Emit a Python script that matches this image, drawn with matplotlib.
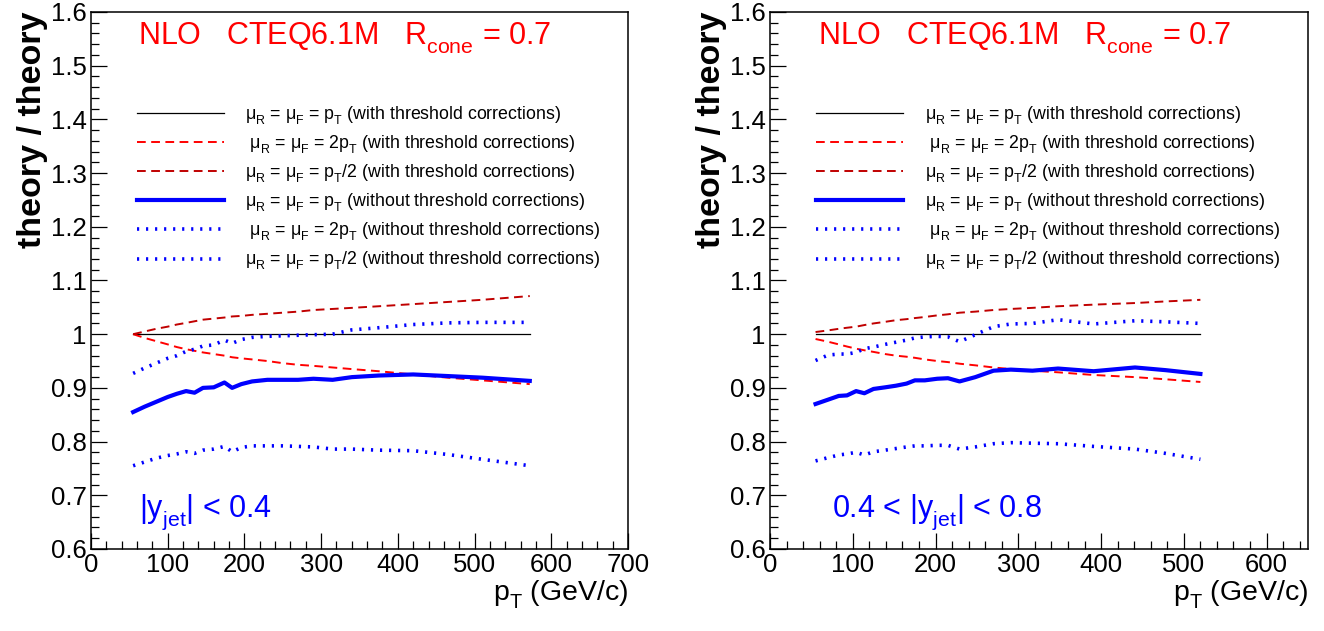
import matplotlib
matplotlib.use("Agg")
import matplotlib.pyplot as plt
import matplotlib._mathtext as mathtext_internals
from matplotlib.ticker import MultipleLocator, FormatStrFormatter

plt.rcParams['font.family'] = 'Liberation Sans'
plt.rcParams['mathtext.fontset'] = 'custom'
plt.rcParams['mathtext.rm'] = 'Liberation Sans'
plt.rcParams['mathtext.it'] = 'Liberation Sans:italic'
plt.rcParams['mathtext.bf'] = 'Liberation Sans:bold'
plt.rcParams['mathtext.default'] = 'regular'
# drop subscripts a bit lower, ROOT-like
mathtext_internals.FontConstantsBase.sub1 = 0.55

# --- |y_jet| < 0.4 ---
pt_y04 = [55, 70, 85, 100, 112, 124, 135, 146, 160, 174, 184, 196,
          210, 230, 250, 270, 290, 315, 340, 375, 420, 465, 510, 572]
y04_pt_th = [1.0, 1.0, 1.0, 1.0, 1.0, 1.0, 1.0, 1.0, 1.0, 1.0, 1.0, 1.0,
             1.0, 1.0, 1.0, 1.0, 1.0, 1.0, 1.0, 1.0, 1.0, 1.0, 1.0, 1.0]
y04_2pt_th = [1.000, 0.993, 0.987, 0.981, 0.976, 0.972, 0.969, 0.966, 0.963, 0.960, 0.957, 0.955,
              0.953, 0.950, 0.946, 0.943, 0.941, 0.938, 0.935, 0.931, 0.925, 0.919, 0.914, 0.907]
y04_half_th = [1.000, 1.005, 1.010, 1.014, 1.018, 1.021, 1.024, 1.027, 1.029, 1.031, 1.033, 1.034,
               1.036, 1.038, 1.040, 1.042, 1.045, 1.047, 1.049, 1.052, 1.056, 1.060, 1.064, 1.071]
y04_pt_noth = [0.855, 0.865, 0.874, 0.883, 0.889, 0.894, 0.891, 0.900, 0.901, 0.910, 0.900, 0.907,
               0.912, 0.915, 0.915, 0.915, 0.917, 0.915, 0.920, 0.923, 0.925, 0.922, 0.919, 0.913]
y04_2pt_noth = [0.927, 0.937, 0.946, 0.955, 0.960, 0.968, 0.972, 0.978, 0.980, 0.989, 0.983, 0.990,
                0.994, 0.996, 0.997, 0.998, 0.999, 1.000, 1.008, 1.012, 1.018, 1.021, 1.022, 1.022]
y04_half_noth = [0.755, 0.762, 0.769, 0.774, 0.777, 0.781, 0.778, 0.784, 0.786, 0.791, 0.781, 0.789,
                 0.792, 0.792, 0.792, 0.791, 0.790, 0.786, 0.786, 0.784, 0.783, 0.776, 0.767, 0.755]

# --- 0.4 < |y_jet| < 0.8 ---
pt_y48 = [55, 70, 83, 93, 104, 114, 125, 139, 152, 165, 175, 187,
          202, 215, 229, 248, 270, 291, 317, 348, 391, 441, 478, 520]
y48_pt_th = [1.0, 1.0, 1.0, 1.0, 1.0, 1.0, 1.0, 1.0, 1.0, 1.0, 1.0, 1.0,
             1.0, 1.0, 1.0, 1.0, 1.0, 1.0, 1.0, 1.0, 1.0, 1.0, 1.0, 1.0]
y48_2pt_th = [0.991, 0.986, 0.981, 0.977, 0.973, 0.970, 0.967, 0.963, 0.960, 0.958, 0.956, 0.953,
              0.950, 0.948, 0.945, 0.942, 0.938, 0.935, 0.932, 0.929, 0.924, 0.920, 0.916, 0.911]
y48_half_th = [1.004, 1.007, 1.010, 1.012, 1.014, 1.017, 1.020, 1.023, 1.026, 1.028, 1.030, 1.032,
               1.035, 1.037, 1.040, 1.042, 1.045, 1.047, 1.049, 1.052, 1.055, 1.058, 1.061, 1.064]
y48_pt_noth = [0.870, 0.878, 0.885, 0.886, 0.894, 0.890, 0.898, 0.901, 0.904, 0.908, 0.914, 0.914,
               0.917, 0.918, 0.912, 0.920, 0.932, 0.934, 0.932, 0.936, 0.931, 0.938, 0.933, 0.926]
y48_2pt_noth = [0.951, 0.961, 0.963, 0.963, 0.966, 0.973, 0.976, 0.981, 0.985, 0.989, 0.993, 0.995,
                0.996, 0.995, 0.986, 0.999, 1.014, 1.019, 1.020, 1.027, 1.019, 1.025, 1.023, 1.020]
y48_half_noth = [0.764, 0.770, 0.775, 0.777, 0.780, 0.775, 0.781, 0.784, 0.787, 0.790, 0.792, 0.792,
                 0.793, 0.793, 0.786, 0.790, 0.796, 0.798, 0.797, 0.796, 0.791, 0.786, 0.778, 0.767]

LABELS = [
    "μ$_{R}$ = μ$_{F}$ = p$_{T}$ (with threshold corrections)",
    " μ$_{R}$ = μ$_{F}$ = 2p$_{T}$ (with threshold corrections)",
    "μ$_{R}$ = μ$_{F}$ = p$_{T}$/2 (with threshold corrections)",
    "μ$_{R}$ = μ$_{F}$ = p$_{T}$ (without threshold corrections)",
    " μ$_{R}$ = μ$_{F}$ = 2p$_{T}$ (without threshold corrections)",
    "μ$_{R}$ = μ$_{F}$ = p$_{T}$/2 (without threshold corrections)",
]

STYLES = [
    dict(color='black', lw=0.9, ls='-'),
    dict(color='#ff0000', lw=1.4, ls=(0, (4.5, 2.8))),
    dict(color='#c00000', lw=1.4, ls=(0, (4.5, 2.8))),
    dict(color='#0000ff', lw=3.0, ls='-'),
    dict(color='#0000ff', lw=2.6, ls=(0, (0.6, 1.9))),
    dict(color='#0000ff', lw=2.6, ls=(0, (0.6, 1.9))),
]

TITLE = "NLO   CTEQ6.1M   R$_{cone}$ = 0.7"


def draw_panel(ax, pt, series, xmax, rap_text, rap_x, title_x):
    for vals, style, label in zip(series, STYLES, LABELS):
        ax.plot(pt, vals, label=label, **style)

    ax.set_xlim(0, xmax)
    ax.set_ylim(0.6, 1.6)
    ax.xaxis.set_major_locator(MultipleLocator(100))
    ax.xaxis.set_minor_locator(MultipleLocator(20))
    ax.yaxis.set_major_locator(MultipleLocator(0.1))
    ax.yaxis.set_minor_locator(MultipleLocator(0.02))
    ax.yaxis.set_major_formatter(FormatStrFormatter('%g'))
    ax.tick_params(which='both', direction='in', top=False, right=False,
                   labelsize=18.5, width=0.9, pad=3)
    ax.tick_params(which='major', length=11.5)
    ax.tick_params(which='minor', length=5.8)
    for sp in ax.spines.values():
        sp.set_linewidth(1.1)

    ax.set_ylabel('theory / theory', fontsize=24.5, fontweight='bold',
                  loc='top', labelpad=2)
    ax.set_xlabel('p$_{T}$ (GeV/c)', fontsize=20.5, loc='right', labelpad=1)

    ax.text(title_x, 1.539, TITLE, color='red', fontsize=22)
    ax.text(rap_x, 0.66, rap_text, color='#0000ff', fontsize=22)

    ax.legend(loc='upper left', bbox_to_anchor=(0.0857, 0.828), frameon=False,
              fontsize=12.8, handlelength=4.9, handletextpad=1.2,
              labelspacing=0.37, borderpad=0, borderaxespad=0)


fig = plt.figure(figsize=(13.24, 6.31), dpi=100)
ax1 = fig.add_axes([0.0687, 0.130, 0.4056, 0.851])
ax2 = fig.add_axes([0.5816, 0.130, 0.4063, 0.851])

draw_panel(ax1, pt_y04,
           [y04_pt_th, y04_2pt_th, y04_half_th, y04_pt_noth, y04_2pt_noth, y04_half_noth],
           700, '|y$_{jet}$| < 0.4', 63, 61)
draw_panel(ax2, pt_y48,
           [y48_pt_th, y48_2pt_th, y48_half_th, y48_pt_noth, y48_2pt_noth, y48_half_noth],
           650, '0.4 < |y$_{jet}$| < 0.8', 75, 58)

fig.savefig('out.png', dpi=100)
